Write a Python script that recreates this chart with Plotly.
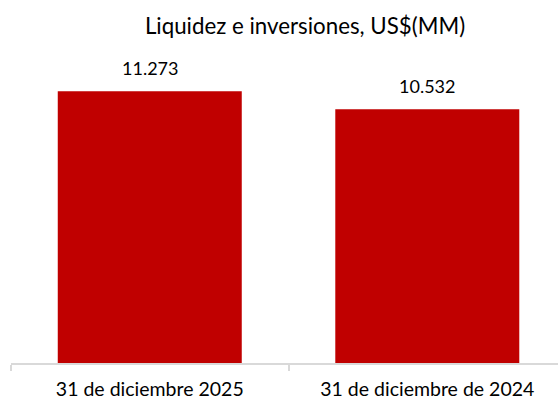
import plotly.graph_objects as go

categories = ["31 de diciembre 2025", "31 de diciembre de 2024"]
values = [11273, 10532]
title_text = "Liquidez e inversiones, US$(MM)"

FONT = "Lato"
W, H = 558, 400

fig = go.Figure()
fig.add_trace(go.Bar(
    x=categories,
    y=values,
    marker=dict(color="#C00000", line=dict(width=0)),
    width=0.663,
    hoverinfo="skip",
))

for c, v in zip(categories, values):
    fig.add_annotation(
        x=c, y=v, text=f"{v:,}".replace(",", "."),
        showarrow=False, yanchor="middle", yshift=23,
        font=dict(family=FONT, size=18, color="#000000"),
    )

fig.update_layout(
    width=W, height=H,
    margin=dict(l=11, r=0, t=40, b=32),
    paper_bgcolor="white", plot_bgcolor="white",
    showlegend=False,
    separators=",.",
    title=dict(
        text=title_text, x=305 / W, xanchor="center",
        y=1 - 26 / H, yanchor="middle",
        font=dict(family=FONT, size=22.3, color="#000000"),
    ),
    xaxis=dict(
        type="category",
        range=[-0.5, 1.471],
        showline=True, linecolor="#d9d9d9", linewidth=1.5,
        ticks="outside", tickson="boundaries", ticklen=6,
        tickcolor="#d9d9d9", tickwidth=1.5,
        ticklabelstandoff=8,
        tickfont=dict(family=FONT, size=19.5, color="#000000"),
        showgrid=False, zeroline=False, layer="below traces",
    ),
    yaxis=dict(
        range=[0, 13400], visible=False, showgrid=False, zeroline=False,
    ),
)

fig.write_html(
    "out.html",
    config={"displayModeBar": False},
    post_script="document.body.style.margin='0';",
)
